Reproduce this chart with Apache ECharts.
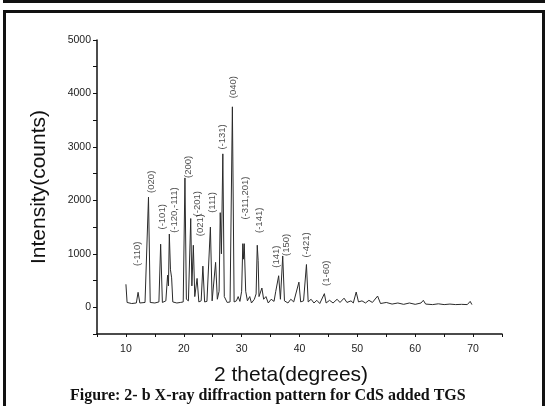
<!DOCTYPE html>
<html>
<head>
<meta charset="utf-8">
<script src="https://cdn.jsdelivr.net/npm/echarts@6/dist/echarts.min.js"></script>
<style>
  body { margin: 0; background: #fff; }
  .wrap { position: relative; width: 548px; height: 406px; overflow: hidden; }
  .topbox { position: absolute; left: 3px; top: -10px; width: 536px; height: 10px; border: 3px solid #111; border-top: none; background: #eee; }
  .frame { position: absolute; left: 3px; top: 10px; width: 536px; height: 400px; border: 3px solid #111; border-bottom: none; }
  #chart { position: absolute; left: 0; top: 0; width: 548px; height: 406px; }
</style>
</head>
<body>
<div class="wrap">
  <div class="topbox"></div>
  <div class="frame"></div>
  <div id="chart"></div>
</div>
<script>
// diffraction pattern: [2theta, counts]
var pattern = [
  [10.0, 430], [10.2, 90], [11.0, 70], [11.8, 80], [12.1, 280], [12.4, 80],
  [13.3, 90], [13.9, 2060], [14.2, 90], [15.0, 80], [15.7, 100], [16.0, 1180],
  [16.3, 90], [16.9, 120], [17.2, 600], [17.35, 400], [17.5, 1370], [17.7, 700],
  [17.9, 550], [18.1, 100], [18.8, 80], [19.4, 90], [19.9, 100], [20.2, 2420],
  [20.45, 150], [20.8, 120], [21.2, 1660], [21.4, 400], [21.65, 1160], [21.9, 200],
  [22.3, 540], [22.6, 100], [23.0, 120], [23.3, 770], [23.6, 100], [24.0, 110],
  [24.6, 1500], [24.9, 120], [25.2, 110], [25.5, 840], [25.8, 150], [26.1, 300],
  [26.3, 1770], [26.5, 1000], [26.75, 2870], [27.0, 200], [27.5, 90], [28.0, 100],
  [28.4, 3750], [28.7, 100], [29.1, 120], [29.4, 200], [29.7, 110], [30.0, 300],
  [30.2, 1190], [30.3, 900], [30.45, 1190], [30.7, 300], [31.0, 120], [31.4, 200],
  [31.7, 80], [32.2, 150], [32.5, 250], [32.7, 1160], [32.85, 880], [33.0, 200],
  [33.5, 360], [33.8, 150], [34.2, 200], [34.6, 80], [35.1, 150], [35.6, 110],
  [35.9, 300], [36.4, 590], [36.7, 150], [37.1, 960], [37.4, 120], [38.0, 80],
  [38.5, 150], [39.0, 100], [39.9, 470], [40.2, 100], [40.7, 120], [41.2, 800],
  [41.5, 100], [42.0, 150], [42.5, 80], [43.0, 130], [43.5, 70], [44.3, 255],
  [44.6, 80], [45.2, 130], [45.8, 80], [46.5, 150], [47.0, 90], [47.7, 170],
  [48.2, 90], [48.9, 120], [49.3, 80], [49.8, 285], [50.2, 100], [50.8, 120],
  [51.4, 80], [52.0, 130], [52.6, 90], [53.5, 210], [54.0, 70], [55.0, 90],
  [56.0, 60], [57.0, 80], [58.0, 55], [59.0, 80], [60.0, 55], [61.0, 80],
  [61.4, 130], [61.8, 60], [63.0, 50], [64.0, 65], [65.0, 50], [66.0, 60],
  [67.0, 50], [68.0, 55], [69.0, 50], [69.5, 110], [69.8, 50]
];

// peak indices and where their labels start: [2theta, counts, text]
var peakLabels = [
  [12.0, 770, "(-110)"],
  [14.4, 2140, "(020)"],
  [16.3, 1455, "(-101)"],
  [18.35, 1393, "(-120,-111)"],
  [20.8, 2420, "(200)"],
  [22.35, 1700, "(-201)"],
  [22.9, 1330, "(021)"],
  [25.0, 1767, "(111)"],
  [26.6, 2950, "(-131)"],
  [28.5, 3910, "(040)"],
  [30.6, 1640, "(-311,201)"],
  [33.1, 1390, "(-141)"],
  [36.0, 740, "(141)"],
  [37.8, 960, "(150)"],
  [41.2, 930, "(-421)"],
  [44.7, 400, "(1-60)"]
];

var xRange = [5, 75];
var yRange = [-500, 5000];

var chart = echarts.init(document.getElementById("chart"));
var option = {
  animation: false,
  grid: { left: 97, top: 40, width: 405, height: 294 },
  xAxis: {
    type: "value",
    min: xRange[0],
    max: xRange[1],
    interval: 5,
    axisLine: { onZero: false, lineStyle: { color: "#111", width: 1.5 } },
    axisTick: { length: 3, lineStyle: { color: "#111" } },
    axisLabel: {
      color: "#222",
      fontSize: 10.5,
      fontFamily: "Liberation Sans",
      margin: 10,
      formatter: function (v) { return v % 10 === 0 ? v : ""; }
    },
    splitLine: { show: false }
  },
  yAxis: {
    type: "value",
    min: yRange[0],
    max: yRange[1],
    interval: 500,
    name: "Intensity(counts)",
    nameLocation: "middle",
    nameRotate: 90,
    nameGap: 47,
    nameTextStyle: { fontSize: 21, color: "#111", fontFamily: "Liberation Sans" },
    axisLine: { show: true, onZero: false, lineStyle: { color: "#111", width: 1.5 } },
    axisTick: { show: true, length: 4, lineStyle: { color: "#111" } },
    axisLabel: {
      color: "#222",
      fontSize: 10.5,
      fontFamily: "Liberation Sans",
      margin: 6,
      formatter: function (v) { return v >= 0 && v % 1000 === 0 ? v : ""; }
    },
    splitLine: { show: false }
  },
  graphic: [
    {
      type: "text",
      left: 214,
      top: 365,
      style: { text: "2 theta(degrees)", fontSize: 21, fill: "#111", fontFamily: "Liberation Sans" }
    },
    {
      type: "text",
      left: 70,
      top: 388,
      style: {
        text: "Figure: 2- b X-ray diffraction pattern for CdS added TGS",
        fontSize: 16,
        fontWeight: "bold",
        fill: "#111",
        fontFamily: "Liberation Serif"
      }
    }
  ],
  series: [
    {
      type: "line",
      data: pattern,
      symbol: "none",
      lineStyle: { color: "#2a2a2a", width: 1 }
    },
    {
      type: "scatter",
      data: peakLabels,
      symbolSize: 0,
      label: {
        show: true,
        position: "inside",
        rotate: 90,
        align: "left",
        verticalAlign: "middle",
        fontSize: 9.5,
        color: "#222",
        fontFamily: "Liberation Sans",
        formatter: function (p) { return p.data[2]; }
      }
    }
  ]
};
chart.setOption(option);
</script>
</body>
</html>
